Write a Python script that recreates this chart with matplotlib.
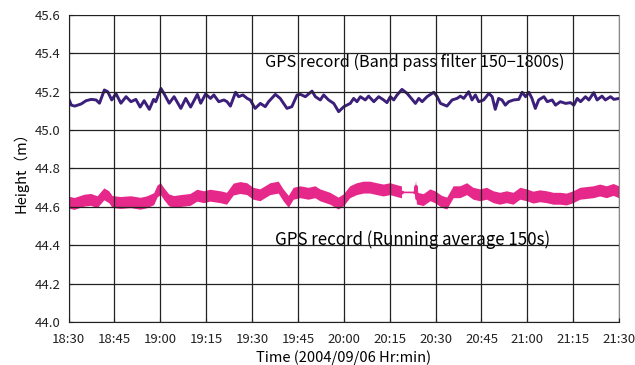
import numpy as np
import matplotlib.pyplot as plt

plt.rcParams['font.family'] = ['Noto Sans CJK JP', 'DejaVu Sans']

# minutes after 18:30, heights (m)
bp_t = [0, 0.9, 2.0, 4.1, 5.7, 7.4, 9.0, 10.1, 11.7, 12.8, 14.1, 15.5, 17.1, 18.8,
        20.4, 22.0, 23.4, 24.7, 26.4, 27.8, 28.5, 30.2, 31.2, 32.9, 34.5, 36.7,
        38.3, 39.9, 42.1, 43.2, 44.8, 46.4, 47.5, 49.1, 50.8, 51.8, 52.9, 54.6,
        55.6, 57.0, 58.4, 59.4, 61.0, 62.7, 64.3, 65.4, 67.6, 69.2, 71.4, 73.0,
        74.7, 75.8, 77.4, 79.6, 80.7, 82.3, 83.4, 85.0, 86.7, 88.3, 90.0, 92.1,
        93.2, 94.3, 95.4, 97.0, 98.1, 99.8, 101.4, 103.0, 104.1, 105.2, 106.3,
        107.4, 109.0, 110.7, 113.4, 114.5, 115.6, 117.2, 119.4, 120.5, 121.6,
        123.7, 125.4, 127.0, 128.1, 129.2, 130.8, 131.9, 133.0, 134.1, 135.7,
        137.4, 138.5, 139.5, 140.6, 141.7, 142.8, 143.9, 145.5, 147.2, 148.3,
        149.4, 150.5, 151.5, 152.6, 153.7, 155.4, 156.5, 158.1, 159.2, 160.8,
        162.5, 164.1, 165.2, 166.3, 167.4, 169.0, 170.1, 171.7, 172.8, 174.4,
        175.5, 177.2, 178.3, 180.0]
bp_h = [45.165, 45.13, 45.125, 45.136, 45.153, 45.16, 45.157, 45.14, 45.209, 45.20,
        45.157, 45.19, 45.14, 45.174, 45.148, 45.16, 45.12, 45.153, 45.108, 45.16,
        45.148, 45.217, 45.19, 45.14, 45.174, 45.113, 45.165, 45.12, 45.186, 45.14,
        45.188, 45.165, 45.183, 45.148, 45.157, 45.148, 45.125, 45.197, 45.174,
        45.183, 45.165, 45.157, 45.113, 45.139, 45.122, 45.148, 45.186, 45.165,
        45.113, 45.122, 45.183, 45.186, 45.174, 45.203, 45.174, 45.157, 45.183,
        45.157, 45.139, 45.096, 45.122, 45.139, 45.165, 45.148, 45.174, 45.157,
        45.177, 45.148, 45.174, 45.157, 45.143, 45.174, 45.157, 45.183, 45.212,
        45.191, 45.139, 45.165, 45.148, 45.174, 45.197, 45.174, 45.139, 45.125,
        45.157, 45.165, 45.177, 45.165, 45.200, 45.157, 45.183, 45.148, 45.157,
        45.191, 45.174, 45.108, 45.165, 45.157, 45.130, 45.148, 45.157, 45.160,
        45.197, 45.174, 45.197, 45.165, 45.113, 45.157, 45.174, 45.148, 45.157,
        45.130, 45.148, 45.139, 45.143, 45.130, 45.165, 45.148, 45.174, 45.157,
        45.195, 45.157, 45.177, 45.157, 45.174, 45.160, 45.165]

ra_t = [0, 2.0, 5.2, 7.4, 9.5, 11.7, 13.3, 14.4, 17.1, 20.4, 23.6, 25.8, 28.0, 29.1,
        30.2, 31.2, 32.9, 34.5, 36.7, 39.9, 42.1, 44.3, 46.4, 49.7, 51.8, 54.0,
        56.2, 58.4, 60.5, 62.7, 66.0, 68.7, 70.3, 72.0, 73.6, 75.8, 78.5, 80.7,
        82.3, 85.6, 88.3, 90.0, 92.1, 94.3, 96.5, 98.7, 100.9, 103.0, 105.2, 107.4,
        109.0, 113.4, 113.6, 113.9, 116.1, 118.3, 119.9, 122.1, 123.8, 125.9, 128.1,
        130.3, 132.4, 134.6, 136.8, 139.0, 141.1, 143.3, 145.5, 147.7, 149.9, 152.0,
        154.2, 156.4, 158.6, 160.8, 162.9, 165.1, 167.3, 169.5, 171.7, 173.8, 176.0,
        178.2, 180.0]
ra_h = [44.622, 44.615, 44.632, 44.636, 44.624, 44.665, 44.650, 44.625, 44.620,
        44.624, 44.616, 44.624, 44.640, 44.680, 44.692, 44.668, 44.634, 44.625,
        44.630, 44.636, 44.658, 44.650, 44.658, 44.650, 44.642, 44.690, 44.698,
        44.692, 44.668, 44.660, 44.692, 44.700, 44.660, 44.626, 44.668, 44.676,
        44.668, 44.676, 44.660, 44.642, 44.617, 44.634, 44.676, 44.692, 44.700,
        44.700, 44.692, 44.685, 44.692, 44.682, 44.675, 44.675, 44.705, 44.643,
        44.635, 44.660, 44.650, 44.626, 44.617, 44.676, 44.676, 44.692, 44.668,
        44.660, 44.668, 44.650, 44.642, 44.650, 44.642, 44.668, 44.660, 44.648,
        44.655, 44.650, 44.642, 44.642, 44.638, 44.650, 44.668, 44.672, 44.676,
        44.685, 44.676, 44.688, 44.676]

# stretches with no data, only a thin joining line
bp_gaps = [(61.0, 64.3), (109.0, 113.4)]
ra_gaps = [(109.0, 113.4)]

tick_labels = ['18:30', '18:45', '19:00', '19:15', '19:30', '19:45', '20:00',
               '20:15', '20:30', '20:45', '21:00', '21:15', '21:30']

purple = '#3c1f7a'
pink = '#e6288a'
band = 0.031  # half height of the noisy pink trace


def mask_gaps(t, h, gaps):
    t = np.array(t, dtype=float)
    h = np.array(h, dtype=float)
    out_t, out_h = [], []
    for i in range(len(t)):
        out_t.append(t[i])
        out_h.append(h[i])
        for a, b in gaps:
            if i + 1 < len(t) and t[i] == a and t[i + 1] >= b:
                out_t.append((a + b) / 2)
                out_h.append(np.nan)
    return np.array(out_t), np.array(out_h)


fig = plt.figure(figsize=(6.35, 3.65), dpi=100)
ax = fig.add_axes([0.108, 0.118, 0.867, 0.841])

ax.plot(bp_t, bp_h, color=purple, lw=0.9, zorder=2)
tt, hh = mask_gaps(bp_t, bp_h, bp_gaps)
ax.plot(tt, hh, color=purple, lw=2.1, solid_joinstyle='round', zorder=2)

ax.plot(ra_t, ra_h, color=pink, lw=1.2, zorder=2)
tt, hh = mask_gaps(ra_t, ra_h, ra_gaps)
ax.fill_between(tt, hh - band, hh + band, color=pink, lw=0, zorder=2)
ax.plot(tt, hh, color=pink, lw=2.5, zorder=2)

ax.set_xlim(0, 180)
ax.set_ylim(44.0, 45.6)
ax.set_xticks(np.arange(0, 181, 15))
ax.set_xticklabels(tick_labels)
yt = np.arange(44.0, 45.61, 0.2)
ax.set_yticks(yt)
ax.set_yticklabels(['%.1f' % v for v in yt])
ax.tick_params(direction='in', length=3, labelsize=9.5, colors='#222222', pad=6)
ax.tick_params(axis='x', pad=8)
ax.grid(True, color='#222222', lw=0.9, zorder=3)
ax.set_axisbelow(False)
for s in ['top', 'right']:
    ax.spines[s].set_color('#888888')
for s in ['left', 'bottom']:
    ax.spines[s].set_color('#222222')

ax.set_ylabel('Height（m）', fontsize=10.5, labelpad=4)
ax.set_xlabel('Time (2004/09/06 Hr:min)', fontsize=10.5, labelpad=3)

ax.text(0.357, 0.845, 'GPS record (Band pass filter 150\u22121800s)', transform=ax.transAxes,
        fontsize=11.7, va='center', ha='left', zorder=1)
ax.text(0.375, 0.267, 'GPS record (Running average 150s)', transform=ax.transAxes,
        fontsize=12.2, va='center', ha='left', zorder=1)

fig.savefig('out.png', dpi=100)
